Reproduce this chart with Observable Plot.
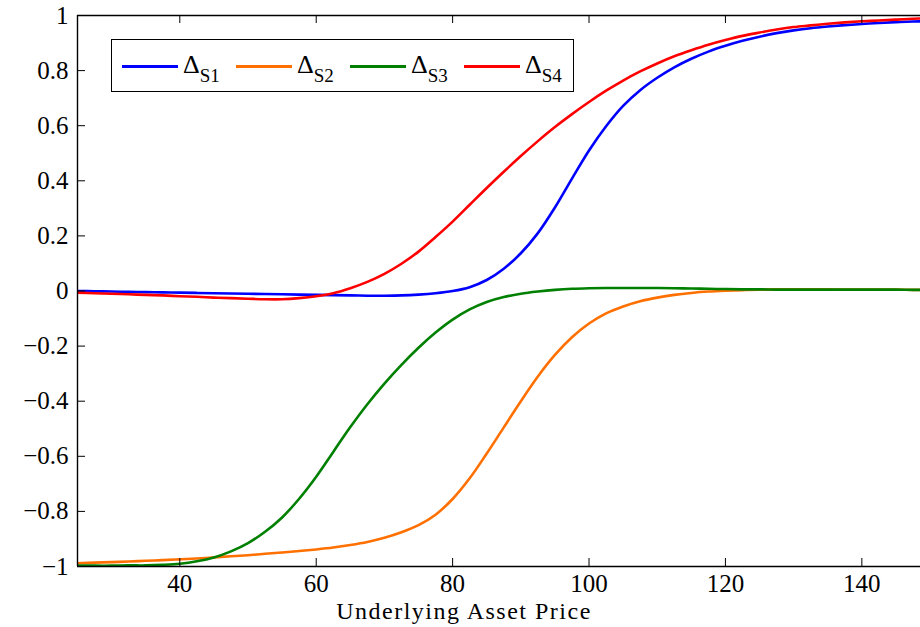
<!DOCTYPE html>
<html><head><meta charset="utf-8">
<script src="https://cdn.jsdelivr.net/npm/d3@7"></script>
<script src="https://cdn.jsdelivr.net/npm/@observablehq/plot@0.6"></script>
<style>
body{margin:0;background:#fff;}
#wrap{position:relative;width:920px;height:627px;font-family:"Liberation Serif",serif;}
#legend{position:absolute;left:111px;top:39px;width:461px;height:51px;border:1.4px solid #000;background:#fff;}
.item{position:absolute;top:0;height:51px;}
.sw{position:absolute;top:25px;width:56px;height:3px;}
.lab{position:absolute;left:61px;top:12px;font-size:26px;white-space:nowrap;line-height:1;}
.lab span{font-size:19px;position:relative;top:9px;}
#xlab{position:absolute;left:0;width:928px;text-align:center;top:599px;font-size:24px;letter-spacing:1.5px;line-height:1;white-space:nowrap;}
</style></head>
<body><div id="wrap"></div>
<script>
const xs = [25,27.5,30,32.5,35,37.5,40,42.5,45,47.5,50,52.5,55,57.5,60,62.5,65,67.5,70,72.5,75,77.5,80,82.5,85,87.5,90,92.5,95,97.5,100,102.5,105,107.5,110,112.5,115,117.5,120,122.5,125,127.5,130,132.5,135,137.5,140,142.5,145,147.5,150];
const deltaS1 = [0.000,-0.001,-0.002,-0.003,-0.004,-0.005,-0.006,-0.007,-0.008,-0.009,-0.010,-0.011,-0.012,-0.013,-0.014,-0.015,-0.016,-0.017,-0.017,-0.016,-0.013,-0.008,0.000,0.014,0.040,0.081,0.137,0.210,0.303,0.408,0.510,0.598,0.672,0.729,0.774,0.812,0.843,0.869,0.890,0.908,0.923,0.936,0.946,0.954,0.960,0.965,0.969,0.973,0.976,0.978,0.980];
const deltaS2 = [-0.988,-0.986,-0.984,-0.982,-0.979,-0.977,-0.974,-0.971,-0.967,-0.963,-0.959,-0.954,-0.949,-0.944,-0.938,-0.931,-0.922,-0.911,-0.896,-0.876,-0.850,-0.812,-0.755,-0.680,-0.590,-0.495,-0.400,-0.310,-0.232,-0.168,-0.118,-0.081,-0.056,-0.037,-0.024,-0.014,-0.007,-0.002,0.001,0.003,0.005,0.006,0.006,0.006,0.006,0.005,0.005,0.005,0.005,0.004,0.004];
const deltaS3 = [-0.997,-0.997,-0.997,-0.996,-0.996,-0.994,-0.990,-0.981,-0.967,-0.945,-0.915,-0.874,-0.822,-0.754,-0.674,-0.584,-0.494,-0.411,-0.336,-0.268,-0.206,-0.151,-0.104,-0.067,-0.040,-0.022,-0.010,-0.002,0.004,0.008,0.010,0.011,0.011,0.011,0.011,0.010,0.009,0.008,0.007,0.006,0.006,0.005,0.005,0.005,0.005,0.005,0.005,0.005,0.005,0.004,0.004];
const deltaS4 = [-0.006,-0.008,-0.010,-0.012,-0.014,-0.016,-0.019,-0.021,-0.024,-0.026,-0.028,-0.030,-0.030,-0.026,-0.019,-0.008,0.010,0.033,0.062,0.099,0.143,0.196,0.252,0.313,0.374,0.433,0.490,0.544,0.595,0.642,0.686,0.727,0.764,0.797,0.826,0.852,0.874,0.894,0.911,0.926,0.938,0.949,0.958,0.964,0.970,0.975,0.979,0.982,0.985,0.988,0.990];
const seriesNames = ["S1","S2","S3","S4"];
const seriesColors = ["#0000ff","#ff7000","#008000","#ff0000"];
const xTicks = [40,60,80,100,120,140];
const yTicks = [-1,-0.8,-0.6,-0.4,-0.2,0,0.2,0.4,0.6,0.8,1];
const xLabel = "Underlying Asset Price";

const allSeries = [deltaS1, deltaS2, deltaS3, deltaS4];
const rows = [];
allSeries.forEach((vals, k) => xs.forEach((x, i) => rows.push({x, y: vals[i], s: seriesNames[k]})));

const W = 920, H = 627, mL = 77, mR = 0, mT = 15, mB = 61;
const plotW = W - mL - mR, plotH = H - mT - mB;
const fmt = d => d < 0 ? "\u2212" + Math.abs(d) : String(d);

const chart = Plot.plot({
  width: W, height: H,
  marginLeft: mL, marginRight: mR, marginTop: mT, marginBottom: mB,
  style: {fontFamily: "Liberation Serif, serif", fontSize: "25px", color: "#000", background: "#fff"},
  x: {domain: [25, 148.6]},
  y: {domain: [-1, 1]},
  color: {domain: seriesNames, range: seriesColors},
  marks: [
    Plot.line(rows, {x: "x", y: "y", z: "s", stroke: "s", strokeWidth: 2.6, curve: "catmull-rom", clip: true}),
    Plot.ruleY([-1, 1], {stroke: "#000", strokeWidth: 1.4}),
    Plot.ruleX([25], {stroke: "#000", strokeWidth: 1.4}),
    Plot.tickX(xTicks, {x: d => d, insetTop: plotH - 8, stroke: "#000", strokeWidth: 1}),
    Plot.tickX(xTicks, {x: d => d, insetBottom: plotH - 8, stroke: "#000", strokeWidth: 1}),
    Plot.tickY(yTicks, {y: d => d, insetRight: plotW - 8, stroke: "#000", strokeWidth: 1}),
    Plot.axisX({ticks: xTicks, tickSize: 0, tickPadding: 8, label: null, tickFormat: d => String(d)}),
    Plot.axisY({ticks: yTicks, tickSize: 0, tickPadding: 9, label: null, tickFormat: fmt})
  ]
});
const wrap = document.getElementById("wrap");
wrap.appendChild(chart);

const xl = document.createElement("div");
xl.id = "xlab";
xl.textContent = xLabel;
wrap.appendChild(xl);

const legend = document.createElement("div");
legend.id = "legend";
seriesNames.forEach((name, i) => {
  const item = document.createElement("div");
  item.className = "item";
  item.style.left = (10 + i * 114) + "px";
  const sw = document.createElement("div");
  sw.className = "sw";
  sw.style.background = seriesColors[i];
  const lab = document.createElement("div");
  lab.className = "lab";
  lab.innerHTML = "\u0394<span>" + name + "</span>";
  item.appendChild(sw);
  item.appendChild(lab);
  legend.appendChild(item);
});
wrap.appendChild(legend);
</script>
</body></html>
